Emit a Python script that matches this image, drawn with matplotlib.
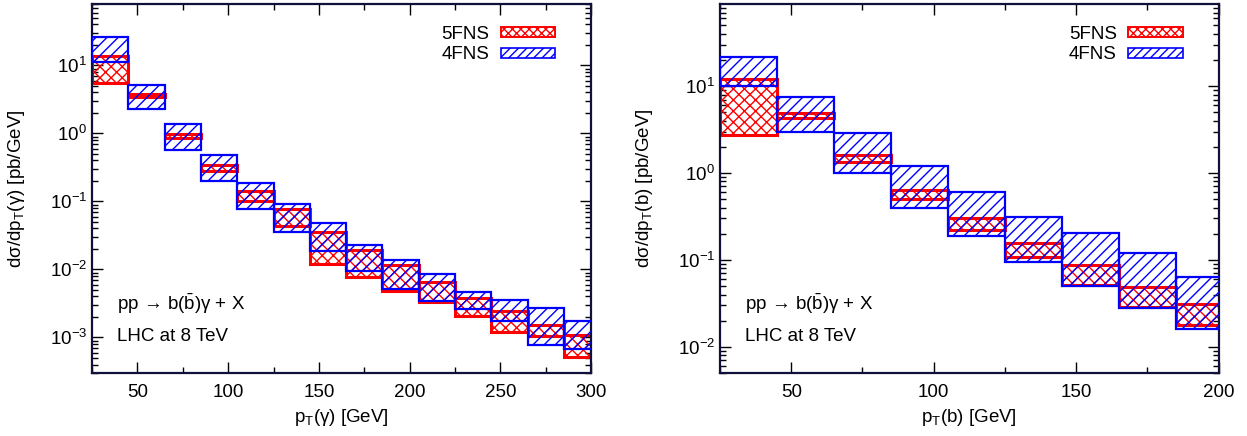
import matplotlib
matplotlib.use("Agg")
import matplotlib.pyplot as plt
from matplotlib.patches import Patch
from matplotlib.ticker import MultipleLocator, LogLocator, NullFormatter
import numpy as np

plt.rcParams['font.family'] = ['Liberation Sans', 'DejaVu Sans']
plt.rcParams['mathtext.fontset'] = 'custom'
plt.rcParams['mathtext.rm'] = 'Liberation Sans'
plt.rcParams['mathtext.it'] = 'Liberation Sans:italic'
plt.rcParams['mathtext.bf'] = 'Liberation Sans:bold'
plt.rcParams['hatch.linewidth'] = 1.0

# ---------------- data: photon pT ----------------
bins_g = [25, 45, 65, 85, 105, 125, 145, 165, 185, 205, 225, 245, 265, 285]
g4_hi = [25.9, 5.2, 1.39, 0.486, 0.188, 0.0925, 0.048, 0.0226, 0.01355, 0.0085, 0.0046, 0.0035, 0.00275, 0.00172]
g4_lo = [11.2, 2.29, 0.57, 0.197, 0.078, 0.0355, 0.0184, 0.00957, 0.0051, 0.0034, 0.00262, 0.00172, 0.00078, 0.00068]
g5_hi = [13.6, 3.8, 0.98, 0.338, 0.140, 0.078, 0.0355, 0.019, 0.0115, 0.00653, 0.0038, 0.00241, 0.00151, 0.00107]
g5_lo = [5.6, 3.43, 0.855, 0.276, 0.100, 0.044, 0.0121, 0.0077, 0.0049, 0.0033, 0.00204, 0.00122, 0.00104, 0.00051]

# ---------------- data: b-jet pT ----------------
bins_b = [25, 45, 65, 85, 105, 125, 145, 165, 185]
b4_hi = [21.4, 7.5, 2.86, 1.22, 0.61, 0.315, 0.203, 0.121, 0.0643]
b4_lo = [9.9, 2.96, 0.99, 0.40, 0.189, 0.0955, 0.050, 0.028, 0.0161]
b5_hi = [12.2, 4.85, 1.6, 0.64, 0.30, 0.158, 0.087, 0.0493, 0.031]
b5_lo = [2.74, 4.25, 1.35, 0.50, 0.221, 0.109, 0.0516, 0.0286, 0.0179]

bin_width = 20
labels = ['5FNS', '4FNS']

fig = plt.figure(figsize=(12.47, 4.36), dpi=100)
ax1 = fig.add_axes([0.0738, 0.1445, 0.4002, 0.8463])
ax2 = fig.add_axes([0.5774, 0.1445, 0.3999, 0.8463])


def draw(ax, bins, h4, l4, h5, l5, xlim, ylim, xlabel, ylabel):
    bins = np.array(bins, dtype=float)
    h4, l4, h5, l5 = map(np.array, (h4, l4, h5, l5))
    ax.bar(bins, h5 - l5, bottom=l5, width=bin_width, align='edge',
           facecolor='none', edgecolor='red', hatch='xxx', linewidth=2.2, zorder=2)
    ax.bar(bins, h4 - l4, bottom=l4, width=bin_width, align='edge',
           facecolor='none', edgecolor='blue', hatch='///', linewidth=1.6, zorder=3)
    ax.set_yscale('log')
    ax.set_xlim(*xlim)
    ax.set_ylim(*ylim)
    ax.xaxis.set_major_locator(MultipleLocator(50))
    ax.xaxis.set_minor_locator(MultipleLocator(25))
    ax.yaxis.set_major_locator(LogLocator(base=10, numticks=20))
    ax.yaxis.set_minor_locator(LogLocator(base=10, subs=np.arange(2, 10), numticks=20))
    ax.yaxis.set_minor_formatter(NullFormatter())
    ax.tick_params(which='both', direction='in', top=True, right=True, labelsize=13.5)
    ax.tick_params(which='major', length=8, width=1.0)
    ax.tick_params(which='minor', length=4, width=1.0)
    ax.tick_params(axis='x', which='major', pad=8)
    for s in ax.spines.values():
        s.set_linewidth(1.6)
        s.set_color('#10103a')
    ax.set_xlabel(xlabel, fontsize=13.5)
    ax.set_ylabel(ylabel, fontsize=13.5)
    ax.xaxis.set_label_coords(0.5, -0.093)
    ax.yaxis.set_label_coords(-0.130, 0.5)
    handles = [Patch(facecolor='none', edgecolor='red', hatch='xxxx', linewidth=1.4),
               Patch(facecolor='none', edgecolor='blue', hatch='////', linewidth=1.2)]
    ax.legend(handles, labels, loc='upper right', bbox_to_anchor=(0.95, 0.972),
              frameon=False, markerfirst=False, fontsize=13.5,
              handlelength=2.9, handleheight=0.45, handletextpad=0.6,
              labelspacing=0.2, borderaxespad=0.2)
    ax.text(0.05, 0.187, 'pp → b($\\bar{\\rm b}$)γ + X',
            transform=ax.transAxes, fontsize=13.5, va='center', ha='left')
    ax.text(0.05, 0.100, 'LHC at 8 TeV', transform=ax.transAxes,
            fontsize=13.5, va='center', ha='left')


draw(ax1, bins_g, g4_hi, g4_lo, g5_hi, g5_lo, (25, 300), (3e-4, 80),
     'p$_{\\rm T}$(γ) [GeV]', 'dσ/dp$_{\\rm T}$(γ) [pb/GeV]')
draw(ax2, bins_b, b4_hi, b4_lo, b5_hi, b5_lo, (25, 200), (5e-3, 88),
     'p$_{\\rm T}$(b) [GeV]', 'dσ/dp$_{\\rm T}$(b) [pb/GeV]')

fig.savefig('out.png', dpi=100)
